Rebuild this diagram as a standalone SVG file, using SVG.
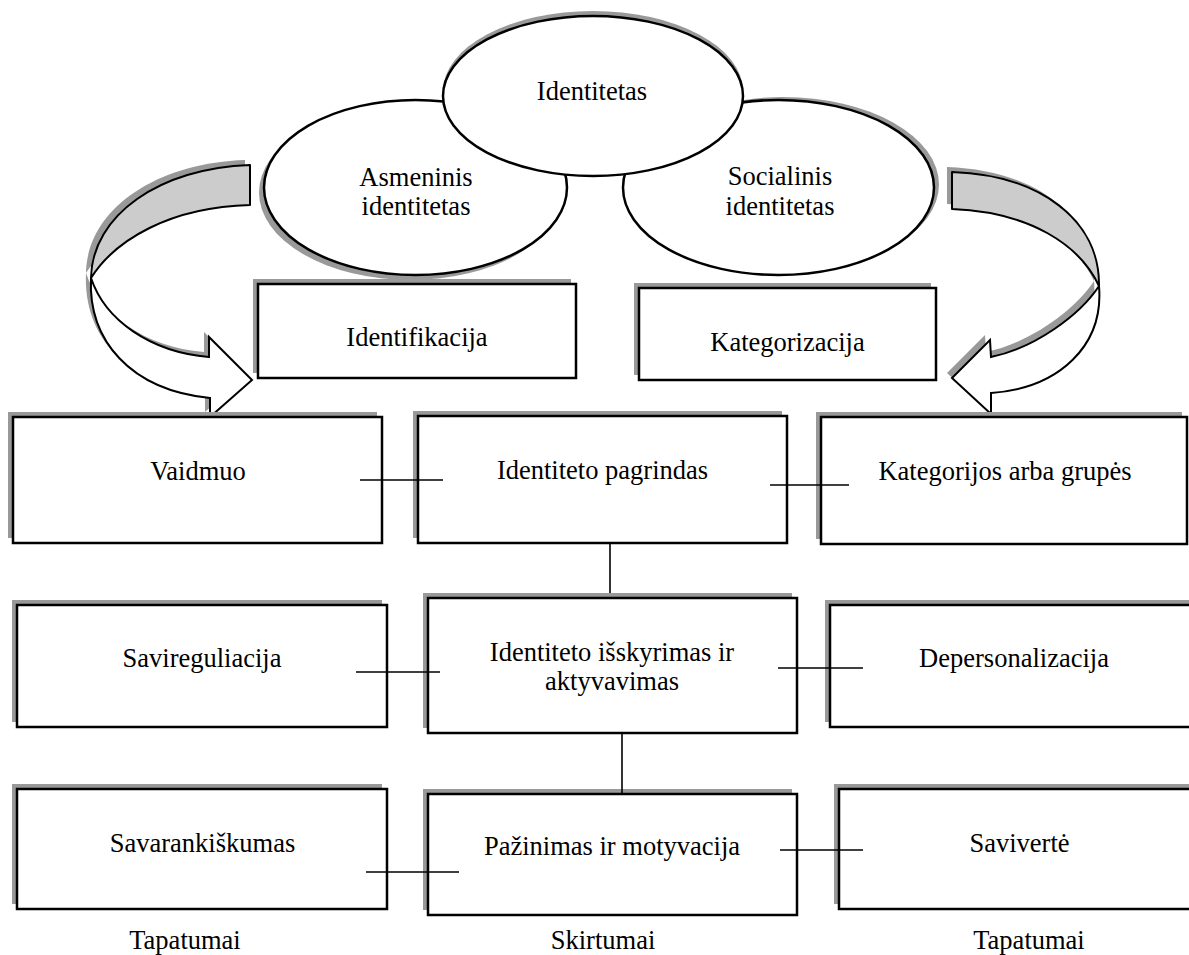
<svg xmlns="http://www.w3.org/2000/svg" width="1189" height="955" viewBox="0 0 1189 955">
  <style>
    text { font-family: "Liberation Serif", "Times New Roman", serif; font-size: 26.5px; fill: #000; text-anchor: middle; }
    .box { fill: #fff; stroke: #000; stroke-width: 2.5; }
    .shadow { fill: #999; stroke: none; }
    .conn { stroke: #000; stroke-width: 1.6; fill: none; }
    .band { fill: #ccc; stroke: #000; stroke-width: 2; stroke-linejoin: round; }
    .front { fill: #fff; stroke: #000; stroke-width: 2; stroke-linejoin: miter; }
  </style>

  <!-- curved arrows from the ellipses down to the side columns -->
  <g id="arrow-left">
    <g transform="translate(-5,-5)" class="shadow">
      <path d="M250,165 C160,168 92,215 91,278 C115,240 170,207 250,205 Z"/>
      <path d="M91,278 C88,340 130,390 210,398 L210,417 L252,380 L209,337 L209,357 C150,352 105,320 91,278 Z"/>
    </g>
    <path class="band" d="M250,165 C160,168 92,215 91,278 C115,240 170,207 250,205 Z"/>
    <path class="front" d="M91,278 C88,340 130,390 210,398 L210,417 L252,380 L209,337 L209,357 C150,352 105,320 91,278 Z"/>
  </g>
  <g id="arrow-right">
    <g transform="translate(-5,-5)" class="shadow">
      <path d="M952,172 C1040,175 1100,220 1099,286 C1080,245 1030,212 952,209 Z"/>
      <path d="M1099,286 C1104,345 1060,388 991,393 L991,414 L952,378 L990,340 L991,357 C1035,348 1080,315 1099,286 Z"/>
    </g>
    <path class="band" d="M952,172 C1040,175 1100,220 1099,286 C1080,245 1030,212 952,209 Z"/>
    <path class="front" d="M1099,286 C1104,345 1060,388 991,393 L991,414 L952,378 L990,340 L991,357 C1035,348 1080,315 1099,286 Z"/>
  </g>

  <!-- ellipses -->
  <g id="asmeninis">
    <ellipse class="shadow" cx="410.5" cy="192.5" rx="151.5" ry="87.5"/>
    <ellipse class="box" cx="415.5" cy="187.5" rx="151.5" ry="87.5"/>
    <text x="416" y="186">Asmeninis</text>
    <text x="416" y="215">identitetas</text>
  </g>
  <g id="socialinis">
    <ellipse class="shadow" cx="783.5" cy="184.5" rx="155.5" ry="87.5"/>
    <ellipse class="box" cx="778.5" cy="187.5" rx="155.5" ry="87.5"/>
    <text x="780" y="185">Socialinis</text>
    <text x="780" y="215">identitetas</text>
  </g>
  <g id="identitetas">
    <ellipse class="shadow" cx="593" cy="91" rx="150" ry="80"/>
    <ellipse class="box" cx="593" cy="96" rx="150" ry="80"/>
    <text x="592" y="100">Identitetas</text>
  </g>

  <!-- process boxes -->
  <g id="identifikacija">
    <rect class="shadow" x="253" y="279" width="318" height="94"/>
    <rect class="box" x="258" y="284" width="318" height="94"/>
    <text x="417" y="346">Identifikacija</text>
  </g>
  <g id="kategorizacija">
    <rect class="shadow" x="634" y="283" width="297" height="92"/>
    <rect class="box" x="639" y="288" width="297" height="92"/>
    <text x="787.5" y="351">Kategorizacija</text>
  </g>

  <!-- row 1 -->
  <g id="vaidmuo">
    <rect class="shadow" x="8" y="412" width="369" height="126"/>
    <rect class="box" x="13" y="417" width="369" height="126"/>
    <text x="198" y="480">Vaidmuo</text>
  </g>
  <g id="identiteto-pagrindas">
    <rect class="shadow" x="413" y="411" width="369" height="127"/>
    <rect class="box" x="418" y="416" width="369" height="127"/>
    <text x="602.5" y="479">Identiteto pagrindas</text>
  </g>
  <g id="kategorijos">
    <rect class="shadow" x="816" y="412" width="366" height="127"/>
    <rect class="box" x="821" y="417" width="366" height="127"/>
    <text x="1005" y="480">Kategorijos arba grupės</text>
  </g>

  <!-- row 2 -->
  <g id="savireguliacija">
    <rect class="shadow" x="12" y="600" width="370" height="122"/>
    <rect class="box" x="17" y="605" width="370" height="122"/>
    <text x="202" y="667">Savireguliacija</text>
  </g>
  <g id="isskyrimas">
    <rect class="shadow" x="423" y="593" width="369" height="135"/>
    <rect class="box" x="428" y="598" width="369" height="135"/>
    <text x="612" y="661">Identiteto išskyrimas ir</text>
    <text x="612" y="690">aktyvavimas</text>
  </g>
  <g id="depersonalizacija">
    <rect class="shadow" x="825" y="600" width="368" height="122"/>
    <rect class="box" x="830" y="605" width="368" height="122"/>
    <text x="1014" y="667">Depersonalizacija</text>
  </g>

  <!-- row 3 -->
  <g id="savarankiskumas">
    <rect class="shadow" x="12" y="784" width="370" height="120"/>
    <rect class="box" x="17" y="789" width="370" height="120"/>
    <text x="202.5" y="852">Savarankiškumas</text>
  </g>
  <g id="pazinimas">
    <rect class="shadow" x="423" y="789" width="369" height="121"/>
    <rect class="box" x="428" y="794" width="369" height="121"/>
    <text x="612" y="855">Pažinimas ir motyvacija</text>
  </g>
  <g id="saviverte">
    <rect class="shadow" x="834" y="784" width="362" height="120"/>
    <rect class="box" x="839" y="789" width="362" height="120"/>
    <text x="1019.5" y="852">Savivertė</text>
  </g>

  <!-- connectors, drawn over the box edges -->
  <g id="connectors">
    <line class="conn" x1="360" y1="480" x2="443" y2="480"/>
    <line class="conn" x1="770" y1="485" x2="849" y2="485"/>
    <line class="conn" x1="610" y1="543" x2="610" y2="593"/>
    <line class="conn" x1="356" y1="672" x2="440" y2="672"/>
    <line class="conn" x1="778" y1="668" x2="863" y2="668"/>
    <line class="conn" x1="622" y1="733" x2="622" y2="793"/>
    <line class="conn" x1="366" y1="872" x2="459" y2="872"/>
    <line class="conn" x1="780" y1="850" x2="863" y2="850"/>
  </g>

  <!-- column captions -->
  <g id="captions">
    <text x="185" y="949">Tapatumai</text>
    <text x="603" y="949">Skirtumai</text>
    <text x="1029" y="949">Tapatumai</text>
  </g>
</svg>
